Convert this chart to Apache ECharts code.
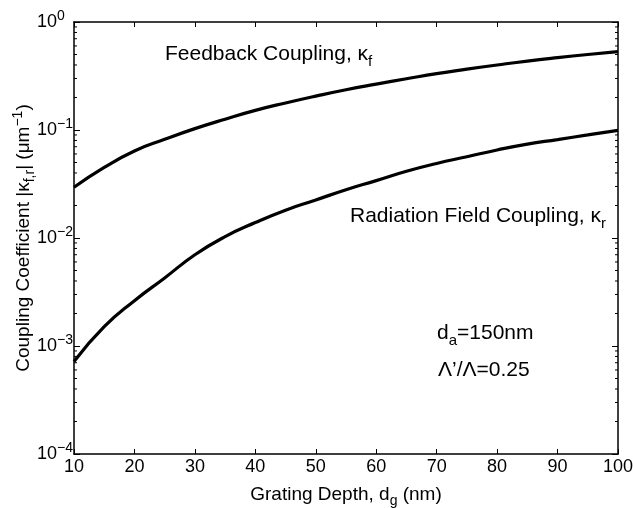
<!DOCTYPE html>
<html><head><meta charset="utf-8">
<script src="https://cdn.jsdelivr.net/npm/echarts@6/dist/echarts.min.js"></script>
<style>html,body{margin:0;padding:0;background:#fff}#c{width:633px;height:508px}</style>
</head><body><div id="c"></div>
<script>
// Grating depth (nm)
const depths = [10,15,20,25,30,35,40,45,50,55,60,65,70,75,80,85,90,95,100];
// Feedback coupling kappa_f (1/um)
const kappaF = [0.0295,0.045,0.064,0.082,0.103,0.126,0.152,0.178,0.206,0.236,0.266,0.298,0.333,0.366,0.400,0.435,0.468,0.500,0.532];
// Radiation field coupling kappa_r (1/um)
const kappaR = [0.00072,0.00151,0.00263,0.00427,0.0070,0.0103,0.0139,0.0181,0.0225,0.0280,0.0340,0.0415,0.0490,0.0565,0.0653,0.0741,0.0815,0.0900,0.0993];
// Tick labels
const xTicks = [10,20,30,40,50,60,70,80,90,100];
const yExps = ['−4','−3','−2','−1','0'];
const yMinor = [];
for (let e = -4; e < 0; e++) for (let m = 2; m <= 9; m++) yMinor.push(+(m * Math.pow(10, e)).toPrecision(2));

const FONT = '"Liberation Sans", Arial, Helvetica, sans-serif';
const chart = echarts.init(document.getElementById('c'));

const yLabelFmt = v => {
  const e = Math.round(Math.log10(v));
  const s = e < 0 ? '−' + (-e) : String(e);
  return '{b|10}{s|' + s + '}';
};

const annRich = {
  n: {fontFamily: FONT, fontSize: 21, fill: '#000'},
  sub: {fontFamily: FONT, fontSize: 15, fill: '#000', padding: [15,0,0,0]}
};

chart.setOption({
  animation: false,
  backgroundColor: '#fff',
  grid: {left: 74, right: 15, top: 22, bottom: 54, containLabel: false, outerBoundsMode: 'none'},
  xAxis: [{
    type: 'value', min: 10, max: 100, interval: 10,
    axisLine: {show: true, onZero: false, lineStyle: {color: '#000', width: 1.5}},
    axisTick: {inside: true, length: 5, lineStyle: {color: '#000', width: 1}},
    splitLine: {show: false},
    axisLabel: {color: '#000', fontFamily: FONT, fontSize: 18, margin: 4},
    name: '{n|Grating Depth, d}{sub|g}{n| (nm)}',
    nameLocation: 'middle', nameGap: 27, nameMoveOverlap: false,
    nameTextStyle: {rich: {
      n: {fontFamily: FONT, fontSize: 19, color: '#000'},
      sub: {fontFamily: FONT, fontSize: 14, color: '#000', padding: [13,0,0,0]}
    }}
  }, {
    type: 'value', min: 10, max: 100, interval: 10, position: 'top',
    axisLine: {show: true, onZero: false, lineStyle: {color: '#000', width: 1.5}},
    axisTick: {inside: true, length: 5, lineStyle: {color: '#000', width: 1}},
    splitLine: {show: false}, axisLabel: {show: false}
  }],
  yAxis: [{
    type: 'log', logBase: 10, min: 1e-4, max: 1,
    axisLine: {show: true, onZero: false, lineStyle: {color: '#000', width: 1.5}},
    axisTick: {inside: true, length: 6, lineStyle: {color: '#000', width: 1}},
    splitLine: {show: false},
    axisLabel: {
      formatter: yLabelFmt, margin: 37, align: 'left',
      rich: {
        b: {fontFamily: FONT, fontSize: 18, color: '#000'},
        s: {fontFamily: FONT, fontSize: 14, color: '#000', padding: [0,0,12,0]}
      }
    },
    name: '{n|Coupling Coefficient |κ}{sub|f,r}{n|| (μm}{sup|−1}{n|)}',
    nameLocation: 'middle', nameGap: 37, nameRotate: 90, nameMoveOverlap: false,
    nameTextStyle: {rich: {
      n: {fontFamily: FONT, fontSize: 19, color: '#000'},
      sub: {fontFamily: FONT, fontSize: 14, color: '#000', padding: [12,0,0,0]},
      sup: {fontFamily: FONT, fontSize: 14, color: '#000', padding: [0,0,12,0]}
    }}
  }, {
    type: 'log', logBase: 10, min: 1e-4, max: 1, position: 'right',
    axisLine: {show: true, onZero: false, lineStyle: {color: '#000', width: 1.5}},
    axisTick: {inside: true, length: 6, lineStyle: {color: '#000', width: 1}},
    splitLine: {show: false}, axisLabel: {show: false}
  }],
  series: [{
    type: 'line', name: 'kf', smooth: true, symbol: 'none',
    data: depths.map((d, i) => [d, kappaF[i]]),
    lineStyle: {color: '#000', width: 3.2}
  }, {
    type: 'line', name: 'kr', smooth: true, symbol: 'none',
    data: depths.map((d, i) => [d, kappaR[i]]),
    lineStyle: {color: '#000', width: 3.2}
  }, {
    type: 'custom', name: 'minor', silent: true,
    data: yMinor.map(v => [v]),
    renderItem: (params, api) => {
      const v = api.value(0);
      const pl = api.coord([10, v]);
      const pr = api.coord([100, v]);
      return {type: 'group', children: [
        {type: 'line', shape: {x1: pl[0], y1: pl[1], x2: pl[0] + 3, y2: pl[1]}, style: {stroke: '#000', lineWidth: 1}},
        {type: 'line', shape: {x1: pr[0], y1: pr[1], x2: pr[0] - 3, y2: pr[1]}, style: {stroke: '#000', lineWidth: 1}}
      ]};
    }
  }],
  graphic: [{
    type: 'text', left: 165, top: 44,
    style: {text: '{n|Feedback Coupling, κ}{sub|f}', rich: annRich}
  }, {
    type: 'text', left: 350, top: 206,
    style: {text: '{n|Radiation Field Coupling, κ}{sub|r}', rich: annRich}
  }, {
    type: 'text', left: 437, top: 323,
    style: {text: '{n|d}{sub|a}{n|=150nm}', rich: annRich}
  }, {
    type: 'text', left: 438, top: 360,
    style: {text: 'Λ’/Λ=0.25', fontFamily: FONT, fontSize: 21, fill: '#000'}
  }]
});
</script></body></html>
